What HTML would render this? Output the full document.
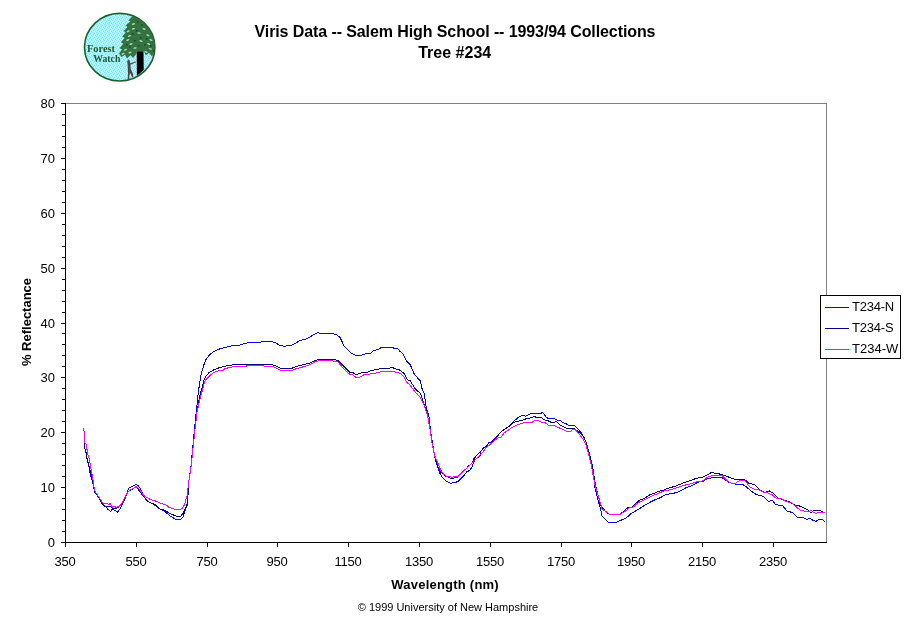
<!DOCTYPE html>
<html><head><meta charset="utf-8"><title>Viris Data -- Salem High School -- Tree #234</title>
<style>
html,body{margin:0;padding:0;background:#fff;}
body{width:911px;height:623px;overflow:hidden;}
svg{display:block;}
text{font-family:"Liberation Sans",Arial,Helvetica,sans-serif;fill:#000;}
.b{font-weight:bold;}
.t13{font-size:13px;}
.logo{font-family:"Liberation Serif","Times New Roman",serif;font-weight:bold;font-size:10px;fill:#1f5a2a;}
</style></head><body>
<svg width="911" height="623" viewBox="0 0 911 623">
<rect x="0" y="0" width="911" height="623" fill="#fff"/>
<g id="logo">
<defs><clipPath id="lc"><ellipse cx="119.7" cy="47.2" rx="35" ry="33.6"/></clipPath>
<pattern id="dith" width="4" height="4" patternUnits="userSpaceOnUse"><rect width="4" height="4" fill="#a2fafa"/><g fill="#9ccdf6"><rect x="0" y="0" width="1" height="1"/><rect x="2" y="1" width="1" height="1"/><rect x="1" y="2" width="1" height="1"/><rect x="3" y="3" width="1" height="1"/><rect x="2" y="3" width="1" height="1" fill="#e8ffff"/></g></pattern></defs>
<ellipse cx="119.7" cy="47.2" rx="35.2" ry="33.8" fill="url(#dith)" stroke="#1e5e2a" stroke-width="1.6"/>
<g clip-path="url(#lc)">
<path d="M133 15.5 L128.5 20.5 L130.3 21.5 L125.5 25.5 L127.5 27 L123.5 31 L125.8 32.3 L122.3 36.5 L124.6 38 L120.8 42.3 L123.2 43.8 L119.5 48.2 L122 49.3 L119 53.5 L121.5 57 L125 54.7 L127 58.5 L130.5 55.2 L133 58 L136.6 53.5 L136.6 51 L143.6 51 L146 55.5 L149 52.8 L152 56.5 L154.5 52.5 L158 54 L160 30 L150 18 L138 12 Z" fill="#347240"/>
<g fill="#1d4a2c"><rect x="136" y="30" width="1.6" height="1.6"/><rect x="140" y="37" width="1.6" height="1.6"/><rect x="134" y="40" width="1.6" height="1.6"/><rect x="144" y="44" width="1.6" height="1.6"/><rect x="138" y="45" width="1.6" height="1.6"/><rect x="129" y="46" width="1.6" height="1.6"/><rect x="150" y="45" width="1.6" height="1.6"/><rect x="141" y="24" width="1.6" height="1.6"/><rect x="146" y="38" width="1.6" height="1.6"/><rect x="132" y="33" width="1.6" height="1.6"/><rect x="126" y="44" width="1.6" height="1.6"/><rect x="153" y="50" width="1.6" height="1.6"/><rect x="137" y="21" width="1.6" height="1.6"/></g>
<g fill="#a6dcc4"><ellipse cx="133.4" cy="24" rx="1.7" ry="0.75" transform="rotate(-20 133.4 24)"/><ellipse cx="133.4" cy="28.8" rx="1.7" ry="0.75" transform="rotate(-15 133.4 28.8)"/><ellipse cx="128.2" cy="31.2" rx="1.7" ry="0.75" transform="rotate(-25 128.2 31.2)"/><ellipse cx="129.4" cy="36" rx="1.7" ry="0.75" transform="rotate(-25 129.4 36)"/><ellipse cx="127.8" cy="40" rx="1.7" ry="0.75" transform="rotate(-25 127.8 40)"/><ellipse cx="131" cy="44" rx="1.7" ry="0.75" transform="rotate(-20 131 44)"/><ellipse cx="125.4" cy="49.7" rx="1.7" ry="0.75" transform="rotate(-25 125.4 49.7)"/><ellipse cx="135" cy="48" rx="1.7" ry="0.75" transform="rotate(-10 135 48)"/><ellipse cx="123" cy="53.7" rx="1.7" ry="0.75" transform="rotate(-20 123 53.7)"/><ellipse cx="147.9" cy="35.3" rx="1.7" ry="0.75" transform="rotate(25 147.9 35.3)"/><ellipse cx="151" cy="40" rx="1.7" ry="0.75" transform="rotate(25 151 40)"/><ellipse cx="148.7" cy="44" rx="1.7" ry="0.75" transform="rotate(25 148.7 44)"/><ellipse cx="150.3" cy="48.9" rx="1.7" ry="0.75" transform="rotate(20 150.3 48.9)"/><ellipse cx="144" cy="29" rx="1.7" ry="0.75" transform="rotate(20 144 29)"/><ellipse cx="139" cy="33" rx="1.7" ry="0.75" transform="rotate(10 139 33)"/><ellipse cx="141" cy="41" rx="1.7" ry="0.75" transform="rotate(15 141 41)"/><ellipse cx="146" cy="52" rx="1.7" ry="0.75" transform="rotate(15 146 52)"/><ellipse cx="130" cy="52.5" rx="1.7" ry="0.75" transform="rotate(-15 130 52.5)"/></g>
<path d="M136.7 51.2 L143.5 51.2 L143.7 70 L136.9 76 Z" fill="#000"/>
<path d="M128.0 59.6 L129.6 60 L130.1 63.2 L135.8 61.4 L136.1 62.3 L130.4 64.8 L130.8 69 L132.8 73.5 L133.4 77 L132.2 77.4 L130.1 72.8 L129.5 75 L129.1 79.5 L127.7 79.5 L128 73 L127.7 66 L127.2 61.5 Z" fill="#4d4545"/>
</g>
<text class="logo" x="87" y="52" textLength="28" lengthAdjust="spacingAndGlyphs">Forest</text>
<text class="logo" x="93.3" y="61.5" textLength="27" lengthAdjust="spacingAndGlyphs">Watch</text>
</g>
<text class="b" x="254.5" y="37" font-size="16" textLength="401" lengthAdjust="spacing">Viris Data -- Salem High School -- 1993/94 Collections</text>
<text class="b" x="454.7" y="58" font-size="16" text-anchor="middle">Tree #234</text>
<g shape-rendering="crispEdges">
<rect x="65" y="103" width="762" height="1" fill="#808080"/>
<rect x="826" y="103" width="1" height="440" fill="#808080"/>
<rect x="65" y="103" width="1" height="440" fill="#000"/>
<rect x="65" y="542" width="762" height="1" fill="#000"/>
<rect x="61" y="542" width="4" height="1" fill="#000"/>
<rect x="62" y="531" width="3" height="1" fill="#000"/>
<rect x="62" y="520" width="3" height="1" fill="#000"/>
<rect x="62" y="509" width="3" height="1" fill="#000"/>
<rect x="62" y="498" width="3" height="1" fill="#000"/>
<rect x="61" y="487" width="4" height="1" fill="#000"/>
<rect x="62" y="476" width="3" height="1" fill="#000"/>
<rect x="62" y="465" width="3" height="1" fill="#000"/>
<rect x="62" y="454" width="3" height="1" fill="#000"/>
<rect x="62" y="443" width="3" height="1" fill="#000"/>
<rect x="61" y="432" width="4" height="1" fill="#000"/>
<rect x="62" y="421" width="3" height="1" fill="#000"/>
<rect x="62" y="410" width="3" height="1" fill="#000"/>
<rect x="62" y="399" width="3" height="1" fill="#000"/>
<rect x="62" y="388" width="3" height="1" fill="#000"/>
<rect x="61" y="377" width="4" height="1" fill="#000"/>
<rect x="62" y="366" width="3" height="1" fill="#000"/>
<rect x="62" y="355" width="3" height="1" fill="#000"/>
<rect x="62" y="344" width="3" height="1" fill="#000"/>
<rect x="62" y="333" width="3" height="1" fill="#000"/>
<rect x="61" y="323" width="4" height="1" fill="#000"/>
<rect x="62" y="312" width="3" height="1" fill="#000"/>
<rect x="62" y="301" width="3" height="1" fill="#000"/>
<rect x="62" y="290" width="3" height="1" fill="#000"/>
<rect x="62" y="279" width="3" height="1" fill="#000"/>
<rect x="61" y="268" width="4" height="1" fill="#000"/>
<rect x="62" y="257" width="3" height="1" fill="#000"/>
<rect x="62" y="246" width="3" height="1" fill="#000"/>
<rect x="62" y="235" width="3" height="1" fill="#000"/>
<rect x="62" y="224" width="3" height="1" fill="#000"/>
<rect x="61" y="213" width="4" height="1" fill="#000"/>
<rect x="62" y="202" width="3" height="1" fill="#000"/>
<rect x="62" y="191" width="3" height="1" fill="#000"/>
<rect x="62" y="180" width="3" height="1" fill="#000"/>
<rect x="62" y="169" width="3" height="1" fill="#000"/>
<rect x="61" y="158" width="4" height="1" fill="#000"/>
<rect x="62" y="147" width="3" height="1" fill="#000"/>
<rect x="62" y="136" width="3" height="1" fill="#000"/>
<rect x="62" y="125" width="3" height="1" fill="#000"/>
<rect x="62" y="114" width="3" height="1" fill="#000"/>
<rect x="61" y="103" width="4" height="1" fill="#000"/>
<rect x="65" y="542" width="1" height="5" fill="#000"/>
<rect x="136" y="542" width="1" height="5" fill="#000"/>
<rect x="207" y="542" width="1" height="5" fill="#000"/>
<rect x="277" y="542" width="1" height="5" fill="#000"/>
<rect x="348" y="542" width="1" height="5" fill="#000"/>
<rect x="419" y="542" width="1" height="5" fill="#000"/>
<rect x="490" y="542" width="1" height="5" fill="#000"/>
<rect x="561" y="542" width="1" height="5" fill="#000"/>
<rect x="631" y="542" width="1" height="5" fill="#000"/>
<rect x="702" y="542" width="1" height="5" fill="#000"/>
<rect x="773" y="542" width="1" height="5" fill="#000"/>
</g>
<text class="t13" x="55" y="546.6" text-anchor="end">0</text>
<text class="t13" x="55" y="491.6" text-anchor="end">10</text>
<text class="t13" x="55" y="436.6" text-anchor="end">20</text>
<text class="t13" x="55" y="381.6" text-anchor="end">30</text>
<text class="t13" x="55" y="327.6" text-anchor="end">40</text>
<text class="t13" x="55" y="272.6" text-anchor="end">50</text>
<text class="t13" x="55" y="217.6" text-anchor="end">60</text>
<text class="t13" x="55" y="162.6" text-anchor="end">70</text>
<text class="t13" x="55" y="107.6" text-anchor="end">80</text>
<text class="t13" x="65.1" y="566" text-anchor="middle" letter-spacing="-0.23">350</text>
<text class="t13" x="136.1" y="566" text-anchor="middle" letter-spacing="-0.23">550</text>
<text class="t13" x="207.1" y="566" text-anchor="middle" letter-spacing="-0.23">750</text>
<text class="t13" x="277.1" y="566" text-anchor="middle" letter-spacing="-0.23">950</text>
<text class="t13" x="348.1" y="566" text-anchor="middle" letter-spacing="-0.23">1150</text>
<text class="t13" x="419.1" y="566" text-anchor="middle" letter-spacing="-0.23">1350</text>
<text class="t13" x="490.1" y="566" text-anchor="middle" letter-spacing="-0.23">1550</text>
<text class="t13" x="561.1" y="566" text-anchor="middle" letter-spacing="-0.23">1750</text>
<text class="t13" x="631.1" y="566" text-anchor="middle" letter-spacing="-0.23">1950</text>
<text class="t13" x="702.1" y="566" text-anchor="middle" letter-spacing="-0.23">2150</text>
<text class="t13" x="773.1" y="566" text-anchor="middle" letter-spacing="-0.23">2350</text>
<text class="b t13" x="391.3" y="589" textLength="107.4" lengthAdjust="spacing">Wavelength (nm)</text>
<text class="b t13" transform="translate(30.5,322) rotate(-90)" text-anchor="middle">% Reflectance</text>
<text x="448" y="611" font-size="11" text-anchor="middle">© 1999 University of New Hampshire</text>
<g fill="none" stroke-width="1" shape-rendering="crispEdges" stroke-linejoin="round">
<polyline stroke="#0000ff" points="83.7,431.5 84.5,433.0 84.6,448.5 85.8,450.8 86.5,456.0 88.7,464.9 90.4,474.8 92.6,482.4 94.2,490.1 95.0,492.5 97.6,495.8 99.6,499.1 101.6,503.1 104.2,506.4 105.9,506.7 107.5,509.0 110.5,511.3 112.5,509.0 114.8,510.3 117.4,512.3 119.7,509.3 121.4,506.4 123.3,502.4 125.3,497.8 127.3,491.9 128.9,487.9 131.2,486.9 133.9,485.6 135.8,484.3 138.1,485.6 140.5,488.6 142.1,492.5 143.1,495.8 146.4,499.8 149.7,502.7 152.3,503.4 155.0,505.4 159.5,508.8 164.8,511.4 169.6,515.7 175.4,519.1 180.7,519.3 183.1,517.2 184.6,512.4 187.0,505.6 187.9,498.9 188.4,484.4 189.8,474.8 190.6,470.0 192.6,449.3 194.4,429.5 195.8,416.4 197.5,400.2 198.4,391.6 199.4,385.0 200.4,377.8 202.4,369.9 204.4,363.3 205.7,360.0 209.9,354.4 214.9,350.9 219.8,348.9 224.8,347.5 229.8,346.5 234.8,345.0 239.8,345.0 244.7,343.5 249.7,342.5 259.7,342.5 263.3,341.4 269.9,341.4 275.4,342.5 279.2,345.2 284.1,346.3 291.8,345.2 295.1,343.3 300.6,340.3 307.2,338.7 311.6,335.9 316.0,333.4 318.2,332.6 319.4,333.4 332.4,333.4 336.8,334.8 340.1,337.6 342.3,342.0 344.0,346.3 347.8,349.6 351.1,352.9 355.5,355.5 361.0,355.5 365.4,353.9 370.9,353.1 373.6,350.5 377.4,349.8 381.8,347.3 392.3,347.3 393.9,348.3 397.7,348.3 399.4,350.9 403.2,354.1 407.1,361.8 410.4,365.1 414.2,373.9 420.3,381.0 421.9,388.2 424.3,394.0 425.9,406.0 429.1,417.3 430.7,431.7 433.1,446.2 434.7,457.4 437.0,464.5 439.4,472.4 441.9,476.9 445.9,480.8 450.8,483.3 454.8,482.5 458.2,481.5 461.2,478.4 464.6,474.9 466.6,471.9 469.6,470.5 472.1,467.0 473.5,463.0 475.0,459.6 477.5,457.6 480.5,455.6 481.0,451.2 483.4,448.2 486.4,446.2 488.9,442.8 491.8,441.8 496.3,437.4 500.7,432.4 504.2,429.4 508.1,427.0 514.3,420.9 519.8,416.2 523.6,415.4 525.8,416.2 530.7,413.7 540.6,413.7 542.3,412.3 543.9,413.7 546.1,417.3 548.3,418.4 553.8,418.4 557.1,420.0 559.8,420.3 562.6,422.5 565.9,423.6 568.6,425.5 574.6,425.5 577.9,428.8 582.3,434.2 586.2,442.3 587.8,448.3 590.0,456.0 592.8,467.0 594.8,486.8 597.6,498.9 600.3,507.7 602.0,515.9 608.5,522.2 616.2,522.2 626.1,518.1 631.6,513.2 639.3,508.8 645.9,504.4 654.6,500.0 660.1,497.8 664.5,495.1 671.1,493.4 675.5,492.9 681.0,490.7 686.5,487.4 692.0,485.7 697.4,482.4 702.9,481.3 707.3,478.9 713.9,477.3 721.6,477.3 724.9,479.7 728.7,482.4 732.6,483.3 735.9,484.4 742.4,484.4 745.7,486.3 751.2,491.2 756.6,494.7 763.2,496.3 768.7,501.6 772.5,500.2 775.8,504.9 782.4,505.3 787.3,511.5 792.3,512.3 797.2,517.2 802.7,517.4 807.1,519.4 809.8,518.1 813.1,520.5 815.9,521.4 819.7,519.2 822.4,519.7 824.9,521.4"/>
<polyline stroke="#000080" points="83.7,431.5 84.5,433.0 84.6,448.5 85.8,450.8 86.5,457.0 88.1,463.1 89.2,467.0 91.0,474.0 93.0,482.0 94.5,489.0 95.0,492.5 97.6,495.8 99.6,499.1 101.6,503.1 103.6,505.0 104.9,506.0 110.8,506.4 112.1,508.3 114.8,509.0 116.7,508.3 119.0,507.0 121.0,505.0 123.0,502.0 125.0,498.0 127.0,493.5 129.3,490.5 133.2,488.9 135.8,486.6 139.1,490.5 142.4,495.2 145.1,498.4 148.4,501.7 151.6,503.1 155.0,504.7 160.0,509.0 164.8,510.4 169.6,513.3 176.4,516.2 180.7,516.2 183.1,513.3 185.5,508.5 187.4,502.7 187.9,495.0 188.4,484.4 189.8,474.8 190.7,470.0 192.9,449.3 195.0,429.5 197.0,412.4 199.4,398.2 200.4,392.9 201.7,389.6 202.7,385.7 203.7,381.1 205.7,376.5 209.0,372.5 214.3,369.6 219.5,367.6 224.8,366.3 229.4,365.3 235.3,364.6 271.0,364.5 275.4,365.6 280.3,368.3 291.8,368.3 297.3,366.1 303.9,364.5 310.5,362.8 314.9,360.6 319.3,359.3 333.5,359.3 337.9,360.6 343.4,366.1 350.0,372.3 353.3,372.8 356.0,374.5 358.8,373.9 362.1,372.6 367.6,372.3 370.9,370.6 376.3,369.5 381.8,368.4 389.5,368.4 391.7,367.3 396.1,369.0 400.5,370.3 404.3,373.9 407.1,379.4 410.4,381.0 414.8,388.2 418.0,391.5 420.3,393.1 421.9,397.5 424.3,404.4 427.5,415.7 429.9,428.5 432.3,444.5 434.7,455.8 437.5,465.5 440.3,471.8 445.1,475.8 451.3,478.4 457.7,477.4 460.7,474.4 464.6,470.5 468.6,466.0 472.1,463.0 474.0,458.6 477.5,454.6 481.4,450.7 483.4,447.7 486.4,446.2 489.3,442.8 492.3,441.8 496.3,437.4 500.7,432.4 504.2,429.4 508.1,427.0 509.9,425.8 513.2,422.5 517.6,421.4 522.0,420.3 526.3,418.7 531.8,417.6 534.0,416.2 536.2,417.3 541.2,417.3 543.9,419.8 548.3,420.9 551.6,422.5 554.3,422.5 556.5,421.1 559.3,424.4 562.6,426.3 567.0,428.5 574.6,428.5 579.0,432.4 583.4,436.2 586.2,442.3 587.8,448.3 590.0,456.0 593.2,471.5 595.4,484.6 598.1,495.6 600.9,506.0 605.2,511.0 609.1,514.3 620.1,514.3 623.9,511.0 628.3,507.4 632.1,507.1 636.0,503.3 640.4,499.5 643.7,498.9 650.3,494.5 654.6,493.4 657.9,491.2 662.3,490.7 666.7,488.5 672.2,487.1 676.6,485.7 683.2,483.0 689.8,480.8 696.3,478.3 702.9,477.0 707.3,474.8 711.7,472.3 713.9,473.1 718.3,473.7 722.7,474.8 727.1,476.4 731.5,478.3 734.8,479.4 744.6,479.4 749.0,483.4 754.4,484.5 759.9,489.8 765.4,492.5 769.2,490.9 773.1,493.1 778.5,498.3 784.0,499.9 789.5,501.8 795.0,505.1 800.5,506.2 804.9,508.6 808.2,510.1 810.9,512.6 813.7,510.6 818.1,510.4 823.5,511.5"/>
<polyline stroke="#ff00ff" points="83.5,428.1 84.2,431.5 84.6,442.3 86.5,444.6 87.3,452.3 89.2,458.5 90.2,464.0 91.5,471.5 93.7,483.5 94.2,489.0 95.0,491.2 97.6,495.2 100.3,499.1 102.2,502.4 104.9,504.0 106.9,503.4 108.8,504.4 110.5,503.4 111.5,506.0 112.8,507.3 114.1,506.4 116.1,507.3 118.7,506.7 120.7,504.7 122.7,501.7 124.6,497.8 126.6,494.2 128.6,491.2 131.2,489.2 133.9,488.2 136.2,486.6 138.5,488.6 141.1,491.5 143.1,494.8 145.7,496.8 149.0,498.8 152.3,500.1 155.0,500.8 157.3,501.7 160.0,503.2 165.8,504.7 168.7,507.1 174.4,509.0 178.8,510.0 182.1,508.5 184.6,504.7 186.0,498.9 187.4,495.0 188.4,484.4 189.8,474.8 190.7,470.0 192.9,449.3 195.0,429.5 197.0,412.4 199.6,400.2 201.1,394.9 202.7,389.0 204.0,383.7 205.7,379.8 209.0,376.5 212.3,373.5 216.9,371.2 223.5,370.2 225.5,368.2 228.7,367.9 234.0,366.6 240.0,366.3 245.7,366.4 247.7,365.4 254.7,365.9 272.0,366.1 275.4,367.7 280.3,370.3 291.8,370.3 296.2,368.8 303.9,366.6 310.5,364.5 314.9,361.7 319.3,360.6 332.4,360.6 334.6,361.7 337.9,361.7 342.3,367.2 348.9,373.8 352.7,375.0 356.6,377.7 359.9,377.2 364.3,374.5 370.9,373.9 377.4,372.8 381.8,371.5 393.9,371.5 396.1,372.3 400.5,373.4 403.8,376.7 407.1,382.7 409.8,384.9 414.8,391.5 420.2,397.2 424.3,406.0 427.5,415.7 429.9,428.5 432.3,444.5 434.7,455.8 438.0,463.5 440.4,469.5 443.4,473.9 446.9,476.6 452.3,477.2 453.8,476.4 458.2,476.4 461.2,473.4 464.6,470.0 468.6,466.5 473.0,462.1 476.5,458.6 480.5,454.6 483.9,450.7 485.4,448.2 490.3,444.3 494.3,440.8 498.2,437.8 501.2,436.9 504.2,432.9 507.1,431.1 511.1,428.0 514.1,426.5 516.5,425.2 520.9,423.6 525.2,422.5 531.8,422.5 535.1,420.3 537.9,420.3 540.6,422.0 545.0,422.5 548.3,425.2 553.8,425.5 558.2,427.4 562.6,429.4 567.0,431.6 570.3,431.6 573.0,429.1 575.2,429.6 579.0,434.0 583.4,439.5 585.6,443.9 587.8,451.6 591.7,467.0 594.8,484.6 598.0,495.0 602.0,508.8 609.6,514.3 620.1,514.3 625.0,511.5 629.4,507.7 632.7,507.5 638.2,502.7 643.7,500.0 650.3,496.7 656.8,494.0 664.5,490.7 670.0,489.9 676.6,487.9 683.2,485.5 689.8,484.1 696.3,481.9 702.9,480.8 708.4,476.7 713.9,475.3 721.6,475.3 724.9,478.6 728.7,481.9 731.5,483.3 735.9,483.3 738.0,481.3 742.4,480.2 745.7,481.3 749.0,486.3 754.4,489.3 758.8,489.8 763.2,492.0 767.6,492.8 772.0,494.7 776.3,498.5 780.7,498.0 785.1,501.3 791.7,502.7 796.1,506.8 800.5,510.4 807.1,511.5 811.5,510.8 815.3,513.4 819.2,512.3 824.9,512.3"/>
</g>
<g shape-rendering="crispEdges">
<rect x="820.5" y="295.5" width="80" height="63" fill="#fff" stroke="#000" stroke-width="1"/>
<rect x="825" y="307" width="24" height="1" fill="#0000ff"/>
<rect x="825" y="328" width="24" height="1" fill="#000080"/>
<rect x="825" y="349" width="24" height="1" fill="#ff00ff"/>
</g>
<text class="t13" x="852" y="311" letter-spacing="-0.25">T234-N</text>
<text class="t13" x="852" y="332" letter-spacing="-0.2">T234-S</text>
<text class="t13" x="852" y="353" letter-spacing="0">T234-W</text>
</svg>
</body></html>
